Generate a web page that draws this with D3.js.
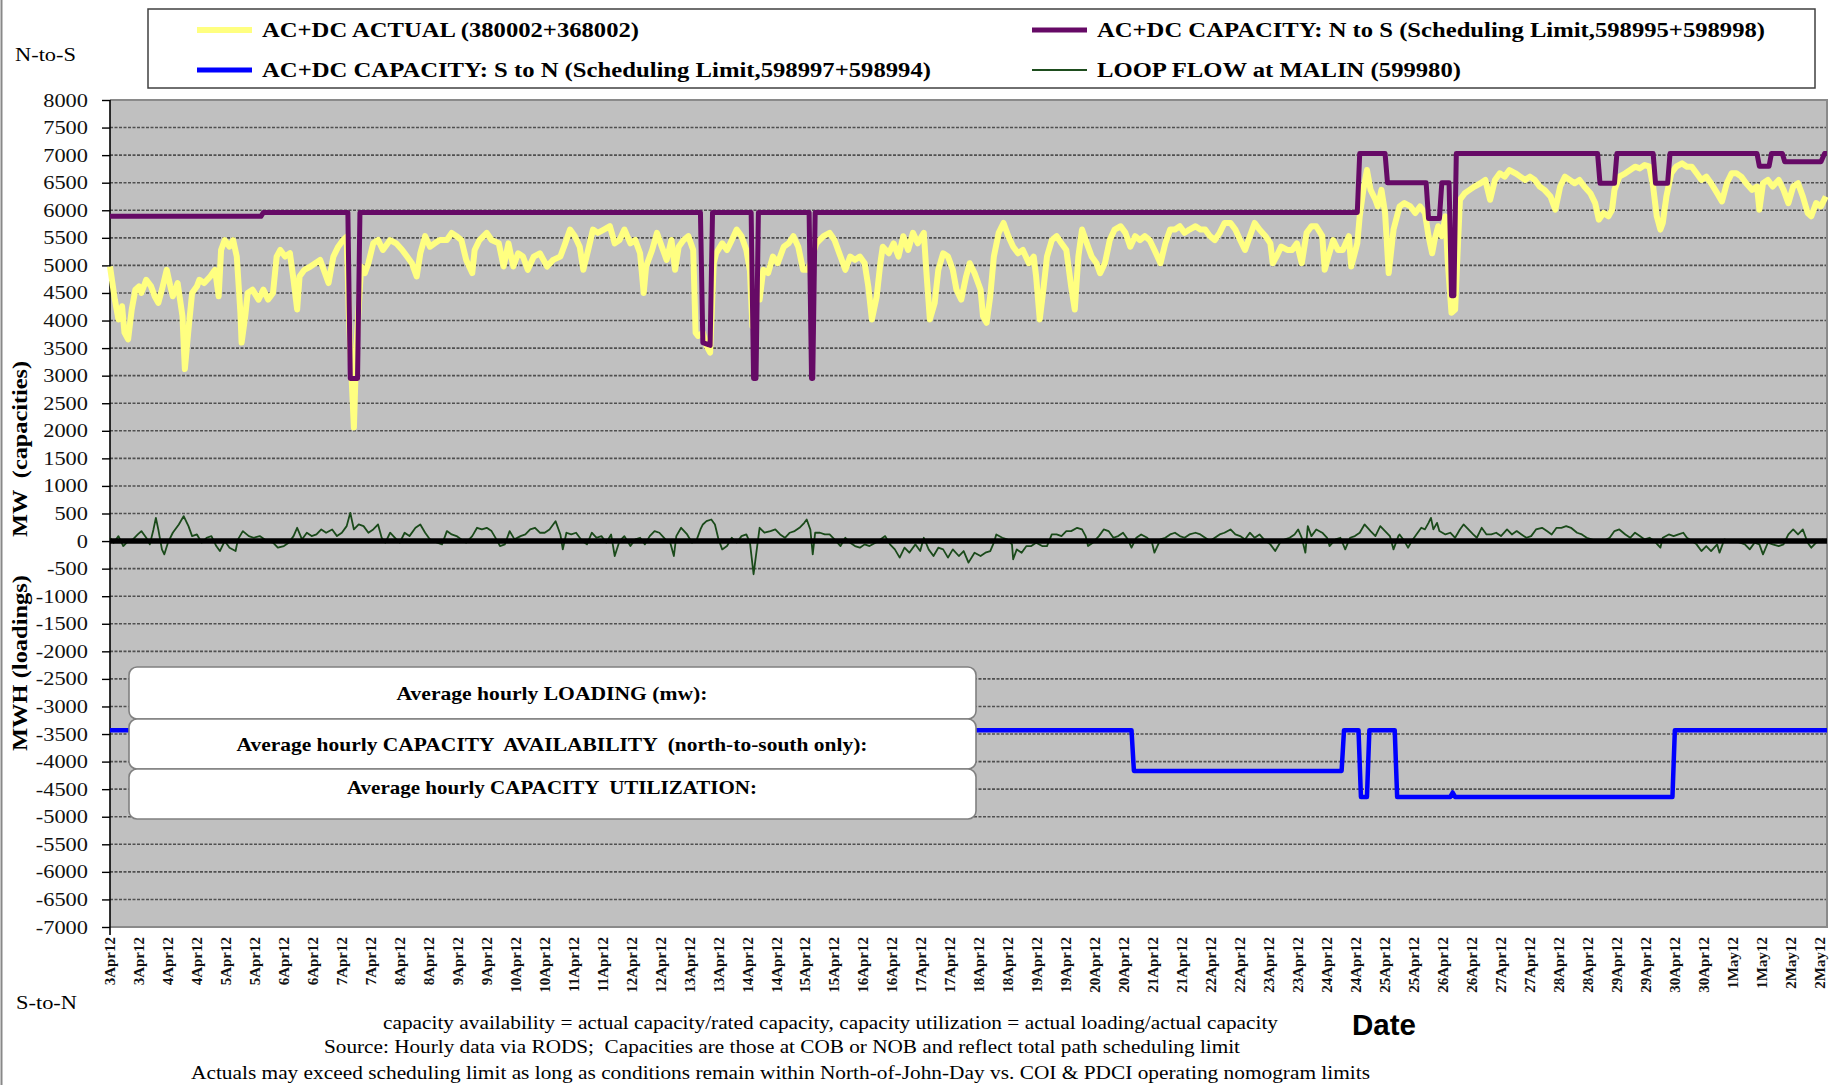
<!DOCTYPE html>
<html><head><meta charset="utf-8">
<script src="https://cdn.jsdelivr.net/npm/d3@7"></script>
<style>body{margin:0;background:#fff}svg{display:block}text{white-space:pre}</style>
</head><body>
<svg id="chart" width="1839" height="1085"></svg>
<script>
// ---------- DATA (hours since 3 Apr 2012 00:00, MW) ----------
const actualSeries = [[0,4980],[2,4380],[3.5,4020],[5,4260],[6,3780],[7.5,3660],[9,4200],[10.5,4560],[12,4620],[13,4500],[15,4740],[17,4620],[18.5,4440],[20,4320],[21.5,4560],[23.5,4920],[25,4620],[26,4440],[28,4680],[30,4080],[31,3120],[32.5,3840],[34,4500],[36,4620],[37,4740],[39,4680],[41.5,4800],[43.5,4920],[45,4440],[46,5280],[47.5,5460],[49.5,5340],[51,5460],[52.5,5160],[54,4140],[54.5,3600],[56,4080],[57,4500],[59,4560],[61.5,4380],[63.5,4560],[65.5,4380],[67.5,4500],[69,5160],[70.5,5280],[72.5,5160],[74.5,5220],[76,4740],[77.5,4200],[78.5,4800],[80.5,4920],[83,4980],[85,5040],[87,5100],[88.5,4920],[90.5,4680],[92.5,5160],[94.5,5340],[96.5,5460],[98,5520],[99,4000],[100,3000],[101,2060],[102,3500],[104,4980],[105.5,4860],[107,5040],[109,5400],[111,5460],[113,5280],[116,5460],[118.5,5400],[121,5280],[123,5160],[125,5040],[127,4800],[128.5,5220],[130.5,5530],[132.5,5340],[134.5,5400],[136.5,5460],[139.5,5460],[141.5,5590],[143.5,5530],[145.5,5460],[147.5,5100],[150,4860],[151,5280],[153,5460],[156,5590],[158,5460],[161,5400],[163,4980],[165,5400],[167,4980],[169,5220],[171,5160],[173,4920],[175.5,5160],[178,5220],
[181,4980],[183.5,5100],[186.5,5160],[188.5,5400],[190.5,5650],[192.5,5530],[194.5,5340],[196,4920],[198,5280],[200,5650],[202,5590],[204.5,5650],[207,5710],[209,5400],[211,5460],[213,5650],[215.5,5400],[217.5,5460],[219.5,5220],[221,4500],[222,4980],[224.5,5280],[226.5,5590],[228.5,5340],[230.5,5100],[232.5,5460],[234,4920],[235.5,5340],[237.5,5460],[239.5,5530],[241.5,5280],[242.5,3780],[243.5,3720],[245.5,3780],[247,3540],[248.5,3420],[250,5040],[251,5220],[253.5,5400],[255.5,5280],[257.5,5460],[259.5,5650],[261.5,5530],[263.5,5280],[265,4900],[266,3900],[267,4380],[269,4380],[270.5,4920],[272.5,4860],[274.5,5160],[276.5,5040],[279,5340],[281,5400],[283,5530],[285,5340],[287,4920],[289,4920],[292.5,5400],[295.5,5530],[298,5590],[300,5460],[302.5,5160],[304.5,4920],[306.5,5160],[308.5,5100],[310.5,5160],[312.5,5040],[314,4620],[315.5,4020],[317.5,4440],[319,5040],[320,5340],[322.5,5220],[324.5,5400],[326.5,5160],[328.5,5530],[330.5,5280],[332.5,5590],[334.5,5400],[337,5590],[338,4920],[339.5,4020],[341.5,4320],[343,4920],[345,5220],[347,5160],[349,4920],[350.5,4560],[352.5,4380],[354.5,4800],[356,5040],
[358,4860],[360.5,4560],[361.5,4080],[363,3960],[364.5,4440],[366,5160],[368,5590],[370,5770],[372,5530],[374,5340],[376,5220],[378,5280],[380.5,5040],[382.5,5160],[383.5,4800],[385,4020],[386.5,4560],[388,5160],[390,5460],[392,5530],[394,5400],[396,5280],[398,4620],[399.5,4200],[401,5160],[402.5,5650],[404.5,5400],[406.5,5160],[408.5,5040],[410,4860],[412,5040],[414,5460],[416,5650],[418.5,5710],[420.5,5590],[422.5,5340],[424.5,5530],[426.5,5460],[428.5,5530],[430.5,5460],[432.5,5280],[435,5040],[437,5400],[439,5650],[441,5650],[443,5710],[445,5590],[447,5650],[449.5,5710],[451.5,5650],[453.5,5650],[455.5,5530],[457.5,5460],[459.5,5590],[461.5,5770],[464,5770],[466,5650],[468,5460],[470,5280],[472,5530],[474,5770],[476,5650],[478.5,5530],[480.5,5400],[481.5,5040],[483,5160],[485,5340],[487.5,5280],[489.5,5280],[491.5,5400],[493.5,5040],[495.5,5590],[497.5,5710],[499.5,5710],[502,5530],[503,4920],[504.5,5160],[506.5,5460],[508.5,5280],[510.5,5280],[513,5530],[514,4980],[516.5,5400],[517.5,5890],[519,6370],[520.5,6730],[522,6370],[524,6190],[525,6070],[526.5,6370],[528,5950],[529.5,4860],[531.5,5650],[534,6070],
[536,6130],[538.5,6070],[540.5,5950],[542.5,6070],[544.5,5950],[546,5530],[547.5,5220],[548.5,5460],[550,5710],[551.5,5530],[553,5890],[554,5040],[555.5,4140],[557,4200],[559,6190],[561,6310],[563,6370],[565,6430],[567.5,6490],[569.5,6550],[571.5,6190],[573.5,6550],[575.5,6670],[577.5,6610],[579.5,6730],[582,6670],[584,6610],[586,6550],[588,6610],[590,6550],[592,6430],[594,6370],[596.5,6250],[598.5,6010],[600.5,6430],[602.5,6610],[604.5,6550],[606.5,6490],[608.5,6550],[610.5,6430],[613,6310],[615,6130],[616.5,5830],[618.5,5950],[620.5,5890],[622,6010],[623,6370],[625,6610],[627.5,6670],[629.5,6730],[631.5,6790],[633.5,6760],[635.5,6820],[637.5,6790],[639,6430],[640.5,5890],[642,5650],[643,5770],[644.5,6250],[646.5,6670],[648.5,6790],[651,6850],[653,6790],[655,6790],[657,6670],[659,6550],[661,6610],[663,6490],[665.5,6310],[667.5,6160],[669.5,6490],[671.5,6670],[673.5,6670],[675.5,6610],[677.5,6490],[680,6370],[682,6430],[683,6010],[684.5,6490],[686.5,6550],[688.5,6430],[691,6550],[693,6370],[695,6130],[697,6430],[699,6490],[701,6250],[703,5950],[704.5,5890],[706.5,6130],[708.5,6070],[710.5,6250]];

const capNtoS = [[0,5890],[62.5,5890],[63.5,5960],[98.5,5960],[99.5,2950],[102.5,2950],[103.5,5960],[244.5,5960],[245.5,3600],[248,3560],[248.5,3550],[249.5,5960],[265.5,5960],[266.5,2950],[267.5,2950],[268.5,5960],[289.5,5960],[290.5,2950],[291,2950],[292,5960],[516.5,5960],[517.5,7030],[528,7030],[529,6500],[545,6500],[546,5850],[550.5,5850],[551.5,6500],[554.5,6500],[555.5,4450],[556.5,4450],[557.5,7030],[616,7030],[617,6490],[623,6490],[624,7030],[639,7030],[640,6490],[645,6490],[646,7030],[682,7030],[683,6800],[687,6800],[688,7030],[692.5,7030],[693.5,6880],[708.5,6880],[710,7030],[711,7030]];

const capStoN = [[0,-3430],[423,-3430],[424,-4170],[510,-4170],[511,-3430],[517,-3430],[518,-4640],[520.5,-4640],[521.5,-3430],[532,-3430],[533,-4640],[555,-4640],[556,-4560],[557,-4640],[647,-4640],[648,-3430],[711,-3430]];

const loopFlow = [[0,60],[1.5,-30],[3.5,90],[5.5,-90],[7.5,0],[9.5,30],[11.5,120],[13,181],[15,60],[16.5,-60],[18,211],[19,421],[20,211],[21.5,-151],[22.5,-241],[24,-30],[26,151],[28.5,301],[30.5,452],[32.5,271],[34,90],[36,120],[38,-30],[40,60],[42,90],[44,-90],[45.5,-181],[47.5,0],[49.5,-120],[52,-181],[53,30],[55,181],[57.5,90],[59.5,60],[62,90],[65,0],[67.5,-30],[69.5,-120],[72,-90],[74,-30],[76,90],[77.5,241],[79.5,30],[81.5,151],[83.5,90],[85.5,120],[87.5,211],[89.5,151],[92,211],[94,90],[96,151],[98,271],[99.5,512],[101,211],[103,301],[105,271],[107,151],[109,211],[111,301],[112.5,60],[114,-30],[116,151],[118,60],[120,-30],[122,151],[124,90],[126.5,241],[128.5,301],[130.5,151],[132.5,30],[135.5,-30],[137.5,-60],[139.5,181],[141.5,120],[143.5,90],[145.5,30],[147.5,-30],[150,90],[152,241],[154,211],[156,241],[158,181],[160,30],[161.5,-90],[163.5,-60],[165.5,181],[167.5,30],[170,90],[172,120],[174,211],[176,241],[178,151],
[180,151],[182,211],[184.5,361],[186.5,120],[187.5,-151],[189,151],[191,120],[193,151],[195.5,0],[197.5,-60],[199.5,151],[201.5,60],[203.5,90],[205.5,-30],[207.5,120],[209,-271],[211,0],[213,90],[215.5,-90],[217.5,30],[219.5,60],[221.5,-60],[223.5,90],[225.5,181],[227.5,151],[230,30],[232,-30],[233.5,-271],[234.5,90],[236.5,241],[239,120],[241,-30],[243,30],[244.5,211],[245.5,301],[247,361],[249,391],[250.5,301],[252,30],[253.5,-151],[255.5,-90],[257.5,60],[259.5,-30],[261.5,90],[263.5,120],[265,-30],[266.5,-602],[268,-90],[269,241],[271,151],[273.5,181],[275.5,211],[277.5,120],[279.5,60],[281.5,151],[283.5,181],[285.5,241],[287.5,331],[288.5,391],[290,211],[291,-241],[292,151],[294,151],[296,120],[298,120],[300,30],[302.5,-90],[304.5,60],[306.5,-30],[308.5,-90],[310.5,-120],[312.5,-60],[314.5,-90],[317,-30],[319,30],[321,90],[323,-60],[325,-151],[327,-301],[329,-120],[331,-211],[333.5,-60],[335.5,-181],[337,60],[339,-151],[341,-271],[343,-120],[345,-151],[347,-301],[349,-151],[351.5,-271],[353.5,-181],[355.5,-391],
[358,-211],[360.5,-271],[362.5,-211],[364.5,-181],[366,-30],[367,120],[369.5,60],[371.5,30],[373.5,-60],[374,-331],[375.5,-151],[377.5,-211],[379.5,-90],[381.5,-90],[383.5,-30],[386,-90],[388,-90],[390,120],[392,120],[394,90],[396,181],[398,181],[400.5,241],[402.5,211],[404,90],[405,-90],[407,-30],[409.5,90],[411.5,211],[413.5,181],[415.5,60],[417.5,90],[419.5,151],[421.5,30],[423,-120],[425,60],[427,120],[429.5,60],[431.5,-30],[432.5,-211],[435,30],[437,60],[439,120],[441,151],[443,90],[445,60],[447,120],[449.5,151],[451.5,120],[453.5,60],[455.5,0],[457.5,60],[459.5,120],[461.5,151],[464,211],[466,120],[468,90],[470,30],[472,151],[474,60],[476,120],[478.5,0],[480.5,-60],[482.5,-181],[484.5,-30],[486.5,30],[488.5,60],[490.5,120],[492,211],[493.5,60],[495,-211],[496,271],[497.5,90],[499.5,211],[502,151],[504,60],[505,-90],[507.5,30],[509.5,60],[511.5,-151],[513.5,60],[515.5,90],[517.5,151],[519.5,301],[522,181],[524,90],[526,271],[528,181],[530,90],[531.5,-151],[533.5,90],
[534,120],[536,0],[537.5,-120],[539.5,30],[541.5,151],[543,241],[544.5,211],[546,331],[547,421],[548,211],[549.5,331],[550.5,181],[553,120],[555,151],[557,60],[559,211],[560.5,301],[562.5,211],[564.5,120],[566,60],[568,241],[570,120],[572,120],[574,151],[576,90],[578.5,211],[580.5,120],[582.5,181],[584.5,120],[586.5,60],[588.5,90],[590.5,211],[593,241],[595,181],[597,120],[599,241],[601,241],[603,271],[605,241],[607.5,151],[609.5,120],[611.5,60],[613.5,30],[615.5,0],[618.5,0],[621,60],[623,181],[625,211],[627.5,120],[629.5,60],[631.5,151],[633.5,90],[635.5,30],[637.5,60],[639.5,0],[642,-120],[643,60],[645.5,120],[647.5,90],[649.5,120],[651.5,151],[653,60],[655,0],[657,-60],[659,-181],[661,-90],[663,-181],[665.5,-60],[666.5,-211],[668.5,30],[671,0],[673,0],[675,-30],[677,-60],[679,-151],[681,-30],[683,-60],[684.5,-241],[686.5,-30],[688.5,-60],[691,-90],[693,-60],[695,120],[697,211],[699,120],[701,211],[703,-30],[704.5,-120],[706.5,-30],[709.5,30]];

const xTickLabels = ["3Apr12","3Apr12","4Apr12","4Apr12","5Apr12","5Apr12","6Apr12","6Apr12","7Apr12","7Apr12","8Apr12","8Apr12","9Apr12","9Apr12","10Apr12","10Apr12","11Apr12","11Apr12","12Apr12","12Apr12","13Apr12","13Apr12","14Apr12","14Apr12","15Apr12","15Apr12","16Apr12","16Apr12","17Apr12","17Apr12","18Apr12","18Apr12","19Apr12","19Apr12","20Apr12","20Apr12","21Apr12","21Apr12","22Apr12","22Apr12","23Apr12","23Apr12","24Apr12","24Apr12","25Apr12","25Apr12","26Apr12","26Apr12","27Apr12","27Apr12","28Apr12","28Apr12","29Apr12","29Apr12","30Apr12","30Apr12","1May12","1May12","2May12","2May12"];
const xTickHours = xTickLabels.map((d,i)=>i*12);
const yTicks = d3.range(-7000, 8001, 500);

const legendItems = [
  {label:"AC+DC ACTUAL (380002+368002)", color:"#ffff80", w:6, col:0, row:0, len:377},
  {label:"AC+DC CAPACITY: N to S (Scheduling Limit,598995+598998)", color:"#660a66", w:5, col:1, row:0, len:668},
  {label:"AC+DC CAPACITY: S to N (Scheduling Limit,598997+598994)", color:"#0000ff", w:5, col:0, row:1, len:669},
  {label:"LOOP FLOW at MALIN (599980)", color:"#1e4d1e", w:2, col:1, row:1, len:364}
];
const boxTexts = ["Average hourly LOADING (mw):", "Average hourly CAPACITY  AVAILABILITY  (north-to-south only):", "Average hourly CAPACITY  UTILIZATION:"];
const footnotes = [
  "capacity availability = actual capacity/rated capacity, capacity utilization = actual loading/actual capacity",
  "Source: Hourly data via RODS;  Capacities are those at COB or NOB and reflect total path scheduling limit",
  "Actuals may exceed scheduling limit as long as conditions remain within North-of-John-Day vs. COI & PDCI operating nomogram limits"
];

// ---------- LAYOUT ----------
const svg = d3.select("#chart");
const L = 110, R = 1827, T = 100, B = 927;
const x = d3.scaleLinear().domain([0, 711]).range([L, R]);
const y = d3.scaleLinear().domain([-7000, 8000]).range([B, T]);
const serif = "'Liberation Serif','Times New Roman',serif";

svg.append("line").attr("x1",1.5).attr("x2",1.5).attr("y1",0).attr("y2",1085).attr("stroke","#888").attr("stroke-width",2);

svg.append("rect").attr("x",L).attr("y",T).attr("width",R-L).attr("height",B-T).attr("fill","#c0c0c0");

svg.append("g").selectAll("line").data(yTicks.filter(v=>v>-7000 && v<8000 && v!==0)).join("line")
  .attr("x1",L).attr("x2",R).attr("y1",d=>y(d)).attr("y2",d=>y(d))
  .attr("stroke","#505050").attr("stroke-width",1.6).attr("stroke-dasharray","3,1.5");

svg.append("path").attr("d",`M${L},${T}H${R}V${B}H${L}`).attr("fill","none").attr("stroke","#8a8a8a").attr("stroke-width",2);

const yAxis = d3.axisLeft(y).tickValues(yTicks).tickSize(8).tickFormat("");
const ga = svg.append("g").attr("transform",`translate(${L},0)`).call(yAxis);
ga.select(".domain").attr("stroke","#000").attr("stroke-width",1.6).attr("d",`M0,${T}V${B+8}`);
ga.selectAll(".tick line").attr("stroke","#000").attr("stroke-width",1.4);

svg.append("g").selectAll("text").data(yTicks).join("text")
  .attr("transform",d=>`translate(88,${y(d)+6.5}) scale(1.18,1)`)
  .attr("text-anchor","end").attr("font-family",serif).attr("font-size",19).attr("fill","#111")
  .text(d=>d);

svg.append("g").selectAll("text").data(xTickHours).join("text")
  .attr("transform",d=>`translate(${x(d)+5},937) rotate(-90)`)
  .attr("text-anchor","end").attr("font-family",serif).attr("font-weight","bold").attr("font-size",15).attr("fill","#111")
  .text((d,i)=>xTickLabels[i]);

const line = d3.line().x(d=>x(d[0])).y(d=>y(d[1]));
svg.append("path").datum(loopFlow).attr("d",line).attr("fill","none").attr("stroke","#1a4a1a").attr("stroke-width",1.8).attr("stroke-linejoin","round");
svg.append("line").attr("x1",L).attr("x2",R).attr("y1",y(0)).attr("y2",y(0)).attr("stroke","#000").attr("stroke-width",5.5);
svg.append("path").datum(actualSeries).attr("d",line).attr("fill","none").attr("stroke","#ffff80").attr("stroke-width",6).attr("stroke-linejoin","round");
svg.append("path").datum(capNtoS).attr("d",line).attr("fill","none").attr("stroke","#660a66").attr("stroke-width",5).attr("stroke-linejoin","round");
svg.append("path").datum(capStoN).attr("d",line).attr("fill","none").attr("stroke","#0000ff").attr("stroke-width",4.5).attr("stroke-linejoin","round");

const boxY = [667, 719, 769], boxH = [52, 50, 50];
const gb = svg.append("g");
boxTexts.forEach((t,i)=>{
  gb.append("rect").attr("x",129).attr("y",boxY[i]).attr("width",847).attr("height",boxH[i]).attr("rx",8)
    .attr("fill","#fff").attr("stroke","#808080").attr("stroke-width",1.6);
});
const boxLen = [311, 631, 410], boxBase = [700, 751, 794];
boxTexts.forEach((t,i)=>{
  gb.append("text").attr("x",552).attr("y",boxBase[i]).attr("text-anchor","middle")
    .attr("font-family",serif).attr("font-weight","bold").attr("font-size",19)
    .attr("textLength",boxLen[i]).attr("lengthAdjust","spacingAndGlyphs").text(t);
});

svg.append("rect").attr("x",148).attr("y",9).attr("width",1667).attr("height",79).attr("fill","#fff").attr("stroke","#404040").attr("stroke-width",1.5);
const colX = [197, 1032], rowY = [30, 70];
legendItems.forEach(it=>{
  svg.append("line").attr("x1",colX[it.col]).attr("x2",colX[it.col]+55).attr("y1",rowY[it.row]).attr("y2",rowY[it.row])
    .attr("stroke",it.color).attr("stroke-width",it.w);
  svg.append("text").attr("x",colX[it.col]+65).attr("y",rowY[it.row]+7).attr("font-family",serif).attr("font-weight","bold")
    .attr("font-size",20).attr("textLength",it.len).attr("lengthAdjust","spacingAndGlyphs").text(it.label);
});

svg.append("text").attr("x",15).attr("y",61).attr("font-family",serif).attr("font-size",18).attr("textLength",61).attr("lengthAdjust","spacingAndGlyphs").text("N-to-S");
svg.append("text").attr("x",16).attr("y",1009).attr("font-family",serif).attr("font-size",18).attr("textLength",61).attr("lengthAdjust","spacingAndGlyphs").text("S-to-N");
svg.append("text").attr("transform","translate(27,449) rotate(-90)").attr("text-anchor","middle").attr("font-family",serif).attr("font-weight","bold").attr("font-size",21).attr("textLength",176).attr("lengthAdjust","spacingAndGlyphs").text("MW  (capacities)");
svg.append("text").attr("transform","translate(27,663) rotate(-90)").attr("text-anchor","middle").attr("font-family",serif).attr("font-weight","bold").attr("font-size",21).attr("textLength",176).attr("lengthAdjust","spacingAndGlyphs").text("MWH (loadings)");

const fnX = [383, 324, 191], fnY = [1029, 1053, 1079], fnLen = [895, 916, 1179];
footnotes.forEach((t,i)=>{
  svg.append("text").attr("x",fnX[i]).attr("y",fnY[i]).attr("font-family",serif).attr("font-size",19)
    .attr("textLength",fnLen[i]).attr("lengthAdjust","spacingAndGlyphs").text(t);
});
svg.append("text").attr("x",1352).attr("y",1035).attr("font-family","'Liberation Sans',Arial,sans-serif").attr("font-weight","bold").attr("font-size",30).attr("textLength",64).attr("lengthAdjust","spacingAndGlyphs").text("Date");
</script>
</body></html>
